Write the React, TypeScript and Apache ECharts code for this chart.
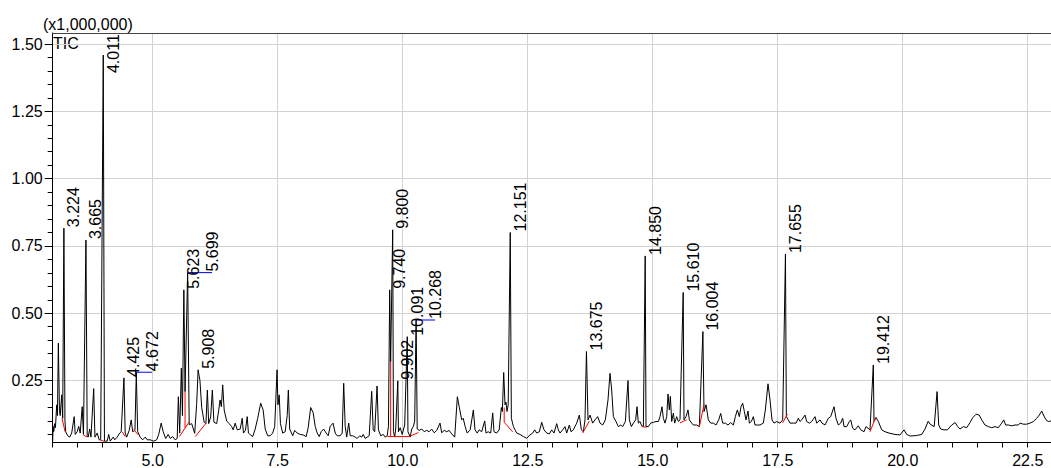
import { useEffect, useRef } from "react";
import * as echarts from "echarts";

// Retention time (min) vs intensity (x1,000,000)
const traceData: [number, number][] = [
  [3.0, 0.025], [3.008, 0.08], [3.02, 0.06], [3.04, 0.09], [3.055, 0.075], [3.08, 0.16], [3.095, 0.12],
  [3.113, 0.389], [3.135, 0.14], [3.15, 0.12], [3.18, 0.197], [3.2, 0.11], [3.224, 0.816], [3.245, 0.1],
  [3.26, 0.06], [3.3, 0.045], [3.34, 0.04], [3.38, 0.055], [3.43, 0.116], [3.45, 0.05], [3.49, 0.06],
  [3.52, 0.08], [3.55, 0.055], [3.59, 0.153], [3.615, 0.05], [3.665, 0.772], [3.69, 0.045], [3.71, 0.04],
  [3.74, 0.07], [3.765, 0.04], [3.82, 0.22], [3.845, 0.04], [3.89, 0.055], [3.93, 0.03], [3.96, 0.03],
  [4.011, 1.459], [4.035, 0.025], [4.09, 0.025], [4.12, 0.05], [4.15, 0.025], [4.21, 0.04], [4.24, 0.03],
  [4.29, 0.04], [4.34, 0.055], [4.37, 0.06], [4.425, 0.26], [4.45, 0.055], [4.48, 0.04], [4.53, 0.065],
  [4.57, 0.104], [4.6, 0.06], [4.645, 0.065], [4.672, 0.281], [4.7, 0.06], [4.75, 0.04], [4.8, 0.03],
  [4.85, 0.04], [4.89, 0.03], [4.95, 0.03], [5.02, 0.025], [5.08, 0.03], [5.12, 0.05], [5.17, 0.092],
  [5.21, 0.06], [5.26, 0.035], [5.31, 0.05], [5.35, 0.035], [5.4, 0.042], [5.45, 0.03], [5.49, 0.035],
  [5.513, 0.19], [5.54, 0.055], [5.573, 0.296], [5.595, 0.12], [5.623, 0.587], [5.647, 0.209],
  [5.699, 0.651], [5.73, 0.086], [5.78, 0.09], [5.84, 0.054], [5.88, 0.165], [5.908, 0.29], [5.945, 0.25],
  [5.98, 0.15], [6.03, 0.095], [6.065, 0.09], [6.093, 0.215], [6.12, 0.09], [6.16, 0.115], [6.193, 0.215],
  [6.225, 0.095], [6.28, 0.09], [6.32, 0.14], [6.347, 0.178], [6.373, 0.153], [6.4, 0.234], [6.43, 0.14],
  [6.48, 0.1], [6.53, 0.09], [6.58, 0.079], [6.61, 0.067], [6.65, 0.092], [6.69, 0.067], [6.75, 0.07],
  [6.79, 0.11], [6.815, 0.055], [6.855, 0.065], [6.89, 0.116], [6.915, 0.055], [6.96, 0.048], [7.0, 0.042],
  [7.05, 0.07], [7.1, 0.11], [7.16, 0.166], [7.21, 0.14], [7.25, 0.07], [7.3, 0.045], [7.35, 0.045],
  [7.4, 0.055], [7.44, 0.079], [7.487, 0.29], [7.505, 0.16], [7.53, 0.197], [7.555, 0.09], [7.6, 0.055],
  [7.65, 0.06], [7.69, 0.12], [7.713, 0.215], [7.74, 0.07], [7.8, 0.045], [7.84, 0.065], [7.89, 0.055],
  [7.95, 0.05], [8.01, 0.048], [8.07, 0.042], [8.11, 0.075], [8.16, 0.15], [8.21, 0.13], [8.25, 0.08],
  [8.29, 0.055], [8.33, 0.042], [8.37, 0.06], [8.42, 0.07], [8.47, 0.055], [8.51, 0.045], [8.55, 0.08],
  [8.607, 0.092], [8.65, 0.055], [8.69, 0.045], [8.75, 0.045], [8.79, 0.055], [8.82, 0.24], [8.85, 0.08],
  [8.88, 0.04], [8.92, 0.092], [8.95, 0.045], [9.0, 0.045], [9.05, 0.04], [9.09, 0.035], [9.14, 0.045],
  [9.18, 0.04], [9.21, 0.05], [9.25, 0.035], [9.29, 0.04], [9.33, 0.045], [9.38, 0.21], [9.41, 0.067],
  [9.44, 0.06], [9.487, 0.23], [9.515, 0.067], [9.56, 0.045], [9.61, 0.05], [9.65, 0.04], [9.69, 0.045],
  [9.715, 0.08], [9.74, 0.587], [9.759, 0.32], [9.8, 0.81], [9.815, 0.06], [9.84, 0.04], [9.86, 0.07],
  [9.902, 0.249], [9.915, 0.06], [9.95, 0.075], [9.99, 0.05], [10.04, 0.085], [10.091, 0.413],
  [10.105, 0.06], [10.15, 0.04], [10.18, 0.07], [10.215, 0.08], [10.24, 0.1], [10.268, 0.475],
  [10.29, 0.07], [10.33, 0.065], [10.38, 0.07], [10.43, 0.06], [10.48, 0.065], [10.53, 0.06],
  [10.58, 0.07], [10.63, 0.056], [10.68, 0.065], [10.746, 0.092], [10.78, 0.056], [10.83, 0.065],
  [10.88, 0.06], [10.93, 0.065], [10.98, 0.052], [11.04, 0.04], [11.093, 0.19], [11.13, 0.153],
  [11.18, 0.104], [11.21, 0.11], [11.25, 0.079], [11.29, 0.055], [11.35, 0.067], [11.413, 0.141],
  [11.446, 0.067], [11.49, 0.055], [11.53, 0.067], [11.58, 0.06], [11.64, 0.1], [11.666, 0.055],
  [11.71, 0.06], [11.76, 0.055], [11.8, 0.13], [11.826, 0.06], [11.88, 0.055], [11.93, 0.067],
  [11.973, 0.15], [11.993, 0.135], [12.02, 0.28], [12.046, 0.16], [12.066, 0.17], [12.086, 0.135],
  [12.11, 0.16], [12.151, 0.8], [12.173, 0.11], [12.213, 0.08], [12.246, 0.067], [12.28, 0.055],
  [12.346, 0.05], [12.413, 0.042], [12.48, 0.036], [12.546, 0.048], [12.6, 0.055], [12.64, 0.067],
  [12.68, 0.055], [12.733, 0.06], [12.78, 0.095], [12.826, 0.067], [12.88, 0.055], [12.933, 0.052],
  [12.98, 0.067], [13.026, 0.055], [13.08, 0.09], [13.113, 0.067], [13.146, 0.055], [13.2, 0.067],
  [13.246, 0.079], [13.28, 0.055], [13.333, 0.085], [13.366, 0.06], [13.413, 0.067], [13.48, 0.092],
  [13.533, 0.122], [13.573, 0.067], [13.613, 0.06], [13.646, 0.104], [13.675, 0.358], [13.706, 0.104],
  [13.746, 0.122], [13.8, 0.092], [13.846, 0.104], [13.9, 0.116], [13.946, 0.092], [14.0, 0.085],
  [14.053, 0.104], [14.106, 0.178], [14.146, 0.277], [14.18, 0.215], [14.213, 0.116], [14.266, 0.098],
  [14.313, 0.079], [14.36, 0.085], [14.4, 0.079], [14.453, 0.098], [14.506, 0.25], [14.533, 0.104],
  [14.573, 0.079], [14.613, 0.092], [14.66, 0.104], [14.686, 0.153], [14.713, 0.092], [14.746, 0.098],
  [14.78, 0.082], [14.813, 0.079], [14.85, 0.713], [14.866, 0.079], [14.913, 0.079], [14.96, 0.092],
  [15.013, 0.095], [15.066, 0.098], [15.113, 0.098], [15.146, 0.116], [15.186, 0.153], [15.213, 0.11],
  [15.246, 0.092], [15.28, 0.116], [15.306, 0.2], [15.333, 0.141], [15.353, 0.191], [15.38, 0.098],
  [15.413, 0.129], [15.44, 0.092], [15.48, 0.116], [15.513, 0.098], [15.546, 0.104], [15.61, 0.577],
  [15.626, 0.104], [15.666, 0.116], [15.706, 0.141], [15.733, 0.104], [15.78, 0.092], [15.813, 0.085],
  [15.88, 0.085], [15.933, 0.079], [16.004, 0.432], [16.026, 0.135], [16.066, 0.16], [16.113, 0.104],
  [16.16, 0.092], [16.213, 0.092], [16.266, 0.085], [16.32, 0.104], [16.36, 0.128], [16.4, 0.092],
  [16.453, 0.092], [16.506, 0.085], [16.56, 0.094], [16.613, 0.085], [16.653, 0.116], [16.693, 0.141],
  [16.733, 0.116], [16.766, 0.153], [16.8, 0.166], [16.833, 0.135], [16.866, 0.104], [16.906, 0.137],
  [16.933, 0.092], [16.973, 0.098], [17.013, 0.116], [17.046, 0.085], [17.093, 0.085], [17.146, 0.085],
  [17.213, 0.092], [17.253, 0.141], [17.306, 0.238], [17.346, 0.178], [17.386, 0.104], [17.426, 0.092],
  [17.48, 0.098], [17.546, 0.092], [17.6, 0.104], [17.655, 0.72], [17.673, 0.116], [17.713, 0.104],
  [17.746, 0.092], [17.813, 0.092], [17.866, 0.092], [17.913, 0.11], [17.946, 0.098], [17.98, 0.104],
  [18.046, 0.122], [18.08, 0.098], [18.133, 0.092], [18.18, 0.098], [18.246, 0.116], [18.28, 0.092],
  [18.346, 0.104], [18.386, 0.092], [18.446, 0.085], [18.513, 0.11], [18.56, 0.116], [18.626, 0.153],
  [18.666, 0.11], [18.713, 0.085], [18.76, 0.092], [18.8, 0.11], [18.826, 0.079], [18.88, 0.079],
  [18.933, 0.098], [18.96, 0.104], [19.0, 0.073], [19.046, 0.067], [19.113, 0.082], [19.16, 0.067],
  [19.226, 0.06], [19.266, 0.079], [19.346, 0.067], [19.412, 0.308], [19.426, 0.098], [19.466, 0.113],
  [19.513, 0.098], [19.58, 0.067], [19.646, 0.06], [19.746, 0.054], [19.846, 0.05], [19.946, 0.048],
  [20.026, 0.067], [20.08, 0.05], [20.15, 0.044], [20.28, 0.046], [20.38, 0.05], [20.446, 0.07],
  [20.51, 0.099], [20.55, 0.088], [20.63, 0.079], [20.687, 0.209], [20.72, 0.085], [20.76, 0.07],
  [20.826, 0.067], [20.893, 0.067], [20.98, 0.085], [21.05, 0.094], [21.1, 0.079], [21.146, 0.07],
  [21.213, 0.079], [21.28, 0.075], [21.346, 0.094], [21.4, 0.112], [21.466, 0.125], [21.53, 0.122],
  [21.58, 0.104], [21.646, 0.085], [21.713, 0.079], [21.78, 0.075], [21.846, 0.079], [21.913, 0.075],
  [21.98, 0.092], [22.02, 0.104], [22.06, 0.085], [22.113, 0.085], [22.18, 0.082], [22.246, 0.085],
  [22.313, 0.085], [22.346, 0.092], [22.413, 0.088], [22.48, 0.088], [22.546, 0.092], [22.613, 0.098],
  [22.68, 0.11], [22.733, 0.122], [22.78, 0.137], [22.826, 0.118], [22.866, 0.104], [22.913, 0.098],
  [22.966, 0.1],
];

const peakLabels = [
  "3.224", "3.665", "4.011", "4.425", "4.672", "5.623", "5.699", "5.908", "9.740", "9.800",
  "9.902", "10.091", "10.268", "12.151", "13.675", "14.850", "15.610", "16.004", "17.655", "19.412",
];
const peakTimes = [
  3.224, 3.665, 4.011, 4.425, 4.672, 5.623, 5.699, 5.908, 9.74, 9.8,
  9.902, 10.091, 10.268, 12.151, 13.675, 14.85, 15.61, 16.004, 17.655, 19.412,
];
const peakHeights = [
  0.816, 0.772, 1.459, 0.26, 0.281, 0.587, 0.651, 0.29, 0.587, 0.81,
  0.249, 0.413, 0.475, 0.8, 0.358, 0.713, 0.577, 0.432, 0.72, 0.308,
];
// labels moved sideways with a blue leader (retention time of the leader end)
const leaderEnds: (number | null)[] = [
  null, null, null, null, 4.987, null, 6.187, null, null, null,
  null, null, 10.646, null, null, null, null, null, null, null,
];

// integration baselines (red)
const baselineSegments: [number, number][][] = [
  [[3.187, 0.11], [3.247, 0.06]],
  [[3.613, 0.048], [3.69, 0.04]],
  [[3.947, 0.03], [4.03, 0.024]],
  [[4.39, 0.06], [4.45, 0.042]],
  [[4.62, 0.068], [4.713, 0.048]],
  [[5.533, 0.042], [5.647, 0.073], [5.733, 0.097]],
  [[5.647, 0.073], [5.647, 0.209]],
  [[5.853, 0.042], [6.067, 0.092]],
  [[9.693, 0.042], [10.133, 0.042], [10.313, 0.057]],
  [[9.759, 0.042], [9.759, 0.32]],
  [[12.03, 0.15], [12.03, 0.095], [12.199, 0.06]],
  [[13.6, 0.055], [13.733, 0.1]],
  [[14.78, 0.079], [14.88, 0.077]],
  [[15.546, 0.093], [15.68, 0.104]],
  [[15.933, 0.079], [16.026, 0.16]],
  [[17.6, 0.093], [17.693, 0.125]],
  [[19.346, 0.06], [19.453, 0.11]],
];

const xMajorTicks = [5, 7.5, 10, 12.5, 15, 17.5, 20, 22.5];
const xMinorTicks = [
  3, 3.5, 4, 4.5, 5.5, 6, 6.5, 7, 8, 8.5, 9, 9.5, 10.5, 11, 11.5, 12, 13, 13.5, 14, 14.5,
  15.5, 16, 16.5, 17, 18, 18.5, 19, 19.5, 20.5, 21, 21.5, 22,
];
const yMajorTicks = [0.25, 0.5, 0.75, 1.0, 1.25, 1.5];
const yMinorTicks = [
  0.05, 0.1, 0.15, 0.2, 0.3, 0.35, 0.4, 0.45, 0.55, 0.6, 0.65, 0.7, 0.8, 0.85, 0.9, 0.95,
  1.05, 1.1, 1.15, 1.2, 1.3, 1.35, 1.4, 1.45,
];

const X_MIN = 3.0;
const X_MAX = 22.966;
const Y_MIN = 0.02;
const Y_MAX = 1.541;

const FONT = "'Liberation Sans', Arial, Helvetica, sans-serif";
const TEXT = "#000";
const GRID = "#d2d2d2";

export default function App() {
  const ref = useRef<HTMLDivElement>(null);

  useEffect(() => {
    if (!ref.current) return;
    const chart = echarts.init(ref.current, null, { renderer: "svg" });

    const baseX = { type: "value", min: X_MIN, max: X_MAX, gridIndex: 0 };
    const baseY = { type: "value", min: Y_MIN, max: Y_MAX, gridIndex: 0 };

    const option: any = {
      animation: false,
      backgroundColor: "#fff",
      grid: {
        left: 52.7,
        right: 0,
        top: 33,
        bottom: 25.5,
        containLabel: false,
        outerBoundsMode: "none",
      },
      xAxis: [
        {
          ...baseX,
          position: "bottom",
          axisLine: { show: true, lineStyle: { color: "#000", width: 1 } },
          axisTick: { show: true, length: 5, customValues: xMajorTicks, lineStyle: { color: "#000" } },
          axisLabel: {
            show: true,
            customValues: xMajorTicks,
            formatter: (v: number) => v.toFixed(1),
            color: TEXT,
            fontSize: 16,
            lineHeight: 14,
            fontFamily: FONT,
            margin: 11,
          },
          splitLine: { show: true, lineStyle: { color: GRID, width: 1 } },
        },
        {
          ...baseX,
          position: "bottom",
          axisLine: { show: false },
          axisTick: { show: true, length: 5, customValues: xMinorTicks, lineStyle: { color: "#000" } },
          axisLabel: { show: false },
          splitLine: { show: false },
        },
        {
          ...baseX,
          position: "top",
          axisLine: { show: true, lineStyle: { color: "#444", width: 1 } },
          axisTick: { show: false },
          axisLabel: { show: false },
          splitLine: { show: false },
        },
      ],
      yAxis: [
        {
          ...baseY,
          position: "left",
          axisLine: { show: true, lineStyle: { color: "#000", width: 1 } },
          axisTick: { show: true, length: 8, customValues: yMajorTicks, lineStyle: { color: "#000" } },
          axisLabel: {
            show: true,
            customValues: yMajorTicks,
            formatter: (v: number) => v.toFixed(2),
            color: TEXT,
            fontSize: 16,
            fontFamily: FONT,
            margin: 10,
          },
          splitLine: { show: true, lineStyle: { color: GRID, width: 1 } },
        },
        {
          ...baseY,
          position: "left",
          offset: 0,
          axisLine: { show: false },
          axisTick: { show: true, length: 5, customValues: yMinorTicks, lineStyle: { color: "#000" } },
          axisLabel: { show: false },
          splitLine: { show: false },
        },
      ],
      graphic: [
        {
          type: "text",
          left: 43,
          top: 16,
          style: { text: "(x1,000,000)", fill: TEXT, fontSize: 16, lineHeight: 15, fontFamily: FONT },
        },
        {
          type: "text",
          left: 53,
          top: 35,
          style: { text: "TIC", fill: TEXT, fontSize: 16, lineHeight: 14, fontFamily: FONT },
        },
      ],
      series: [
        {
          type: "line",
          name: "TIC",
          xAxisIndex: 0,
          yAxisIndex: 0,
          data: traceData,
          showSymbol: false,
          symbol: "none",
          silent: true,
          z: 3,
          lineStyle: { color: "#000", width: 1 },
        },
        ...baselineSegments.map((seg) => ({
          type: "line",
          xAxisIndex: 0,
          yAxisIndex: 0,
          data: seg,
          showSymbol: false,
          symbol: "none",
          silent: true,
          z: 4,
          lineStyle: { color: "#ff0000", width: 1 },
        })),
        ...peakTimes
          .map((t, i) => ({ t, i }))
          .filter(({ i }) => leaderEnds[i] != null)
          .map(({ t, i }) => ({
            type: "line",
            xAxisIndex: 0,
            yAxisIndex: 0,
            data: [
              [t, peakHeights[i]],
              [leaderEnds[i] as number, peakHeights[i]],
            ],
            showSymbol: false,
            symbol: "none",
            silent: true,
            z: 4,
            lineStyle: { color: "#0000ff", width: 1 },
          })),
        {
          type: "custom",
          xAxisIndex: 0,
          yAxisIndex: 0,
          silent: true,
          z: 5,
          data: peakTimes.map((t, i) => [t, peakHeights[i], i]),
          renderItem: (params: any, api: any) => {
            const i = api.value(2) as number;
            const h = api.value(1) as number;
            const lead = leaderEnds[i];
            let x: number;
            let y: number;
            if (lead != null) {
              const e = api.coord([lead, h]);
              x = e[0];
              y = e[1] - 1;
            } else {
              const p = api.coord([api.value(0), h]);
              x = p[0] + 10;
              y = p[1] - 1;
            }
            const txt = peakLabels[i];
            const w = (txt.length - 1) * 8.9 + 4.45;
            const top = params.coordSys.y;
            if (y - w < top) y = top + w;
            return {
              type: "text",
              x,
              y,
              rotation: Math.PI / 2,
              style: {
                text: txt,
                fill: TEXT,
                fontSize: 16,
                fontFamily: FONT,
                align: "left",
                verticalAlign: "middle",
              },
            };
          },
        },
      ],
    };

    chart.setOption(option);
    return () => chart.dispose();
  }, []);

  return (
    <div
      ref={ref}
      style={{ position: "fixed", left: 0, top: 0, width: 1051, height: 468, background: "#fff" }}
    />
  );
}
